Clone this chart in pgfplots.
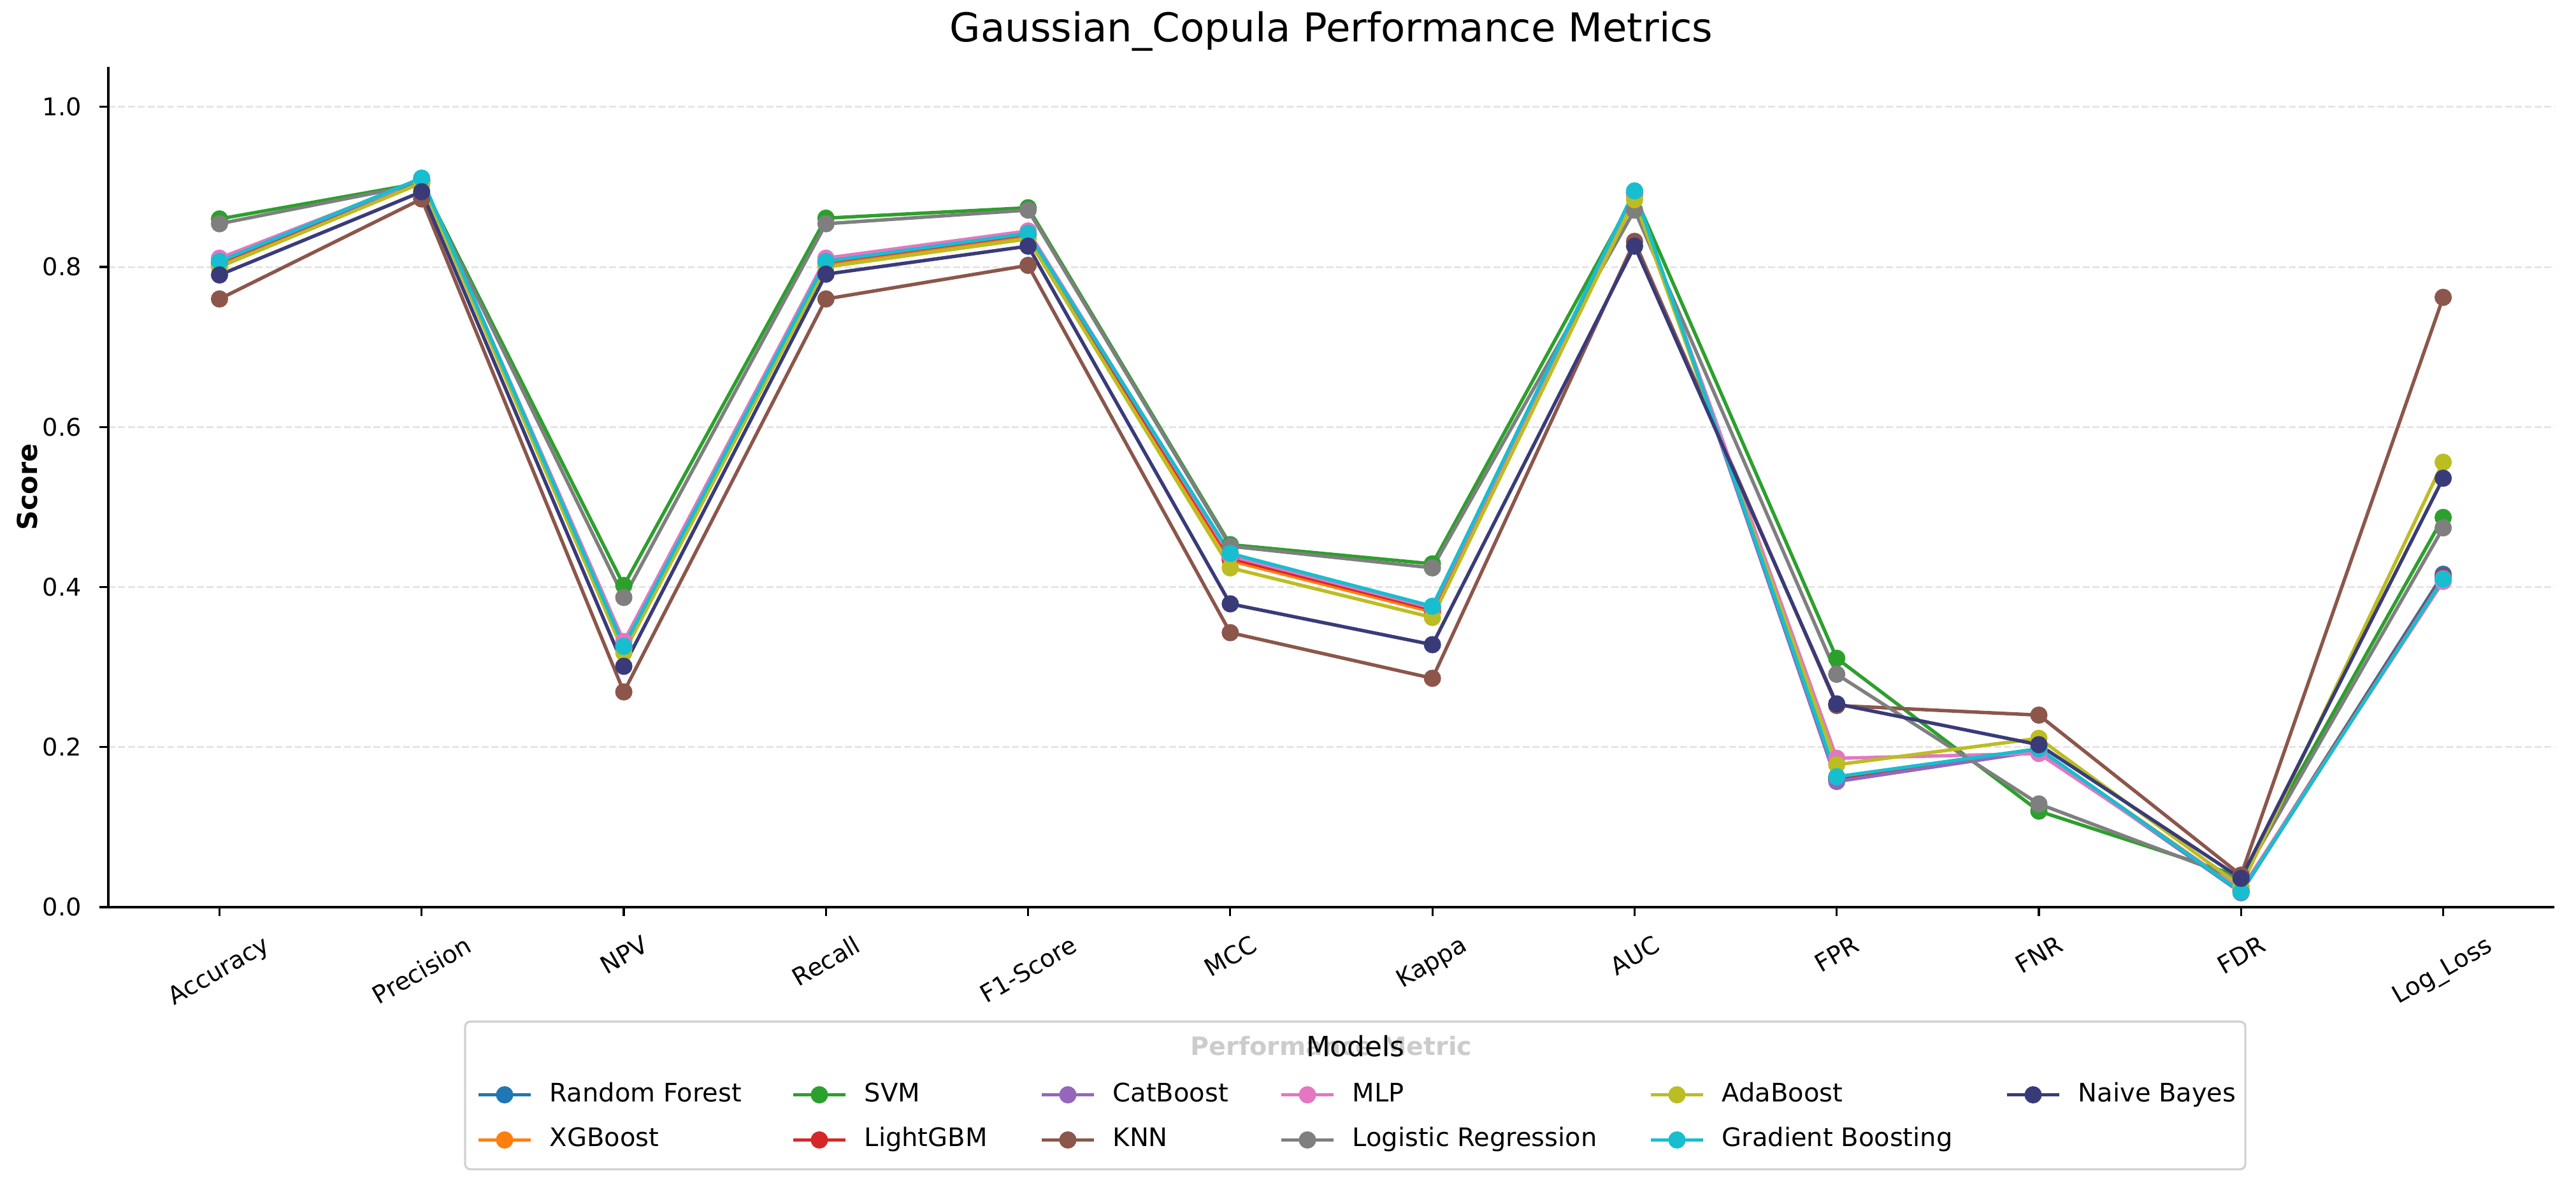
\documentclass[border=0pt]{standalone}
\usepackage{fontspec}
\setmainfont{DejaVu Sans}
\usepackage{graphicx}
\usepackage{pgfplots}
\pgfplotsset{compat=1.18}
\definecolor{cRF}{HTML}{1F77B4}
\definecolor{cXG}{HTML}{FF7F0E}
\definecolor{cSVM}{HTML}{2CA02C}
\definecolor{cLG}{HTML}{D62728}
\definecolor{cCB}{HTML}{9467BD}
\definecolor{cKNN}{HTML}{8C564B}
\definecolor{cMLP}{HTML}{E377C2}
\definecolor{cLR}{HTML}{7F7F7F}
\definecolor{cAda}{HTML}{BCBD22}
\definecolor{cGB}{HTML}{17BECF}
\definecolor{cNB}{HTML}{393B79}
\newcommand{\rl}[1]{\rotatebox{30}{#1}}
\newcommand{\lw}[2]{\makebox[#1][l]{#2}}
\pgfplotsset{
  mstyle/.style={color=#1, mark=*, line width=1.3bp, mark size=3bp, mark options={solid, line width=0.5bp, fill=#1}},
}
\begin{document}
\begin{tikzpicture}
% x label (seen through the legend frame)
\node[font=\bfseries\fontsize{9.5bp}{11bp}\selectfont, anchor=center] at (460.68bp,-52.3bp) {Performance Metric};
% legend frame and title
\draw[draw=black!18, line width=0.8bp, fill=white, fill opacity=0.8, rounded corners=2bp] (134.4bp,-43.1bp) rectangle (804.96bp,-98.76bp);
\node[font=\fontsize{10.5bp}{12bp}\selectfont, anchor=center] at (469.7bp,-52.25bp) {Models};
\begin{axis}[
  name=ax,
  at={(0,0)}, anchor=south west,
  scale only axis,
  width=921.36bp, height=316.56bp,
  xmin=-0.55, xmax=11.55,
  ymin=0, ymax=1.05,
  axis lines=left,
  axis line style={-, line width=0.75bp, black},
  tick align=outside,
  major tick length=3.4bp,
  tick style={line width=0.75bp, black},
  xtick={0,1,2,3,4,5,6,7,8,9,10,11},
  xticklabels={\rl{Accuracy},\rl{Precision},\rl{NPV},\rl{Recall},\rl{F1-Score},\rl{MCC},\rl{Kappa},\rl{AUC},\rl{FPR},\rl{FNR},\rl{FDR},\rl{Log\_Loss}},
  ytick={0,0.2,0.4,0.6,0.8,1.0},
  /pgf/number format/fixed,
  /pgf/number format/fixed zerofill,
  /pgf/number format/precision=1,
  /pgf/number format/assume math mode=true,
  ticklabel style={font=\fontsize{9.2bp}{11bp}\selectfont},
  xticklabel style={anchor=north, inner sep=0pt, yshift=-6.7bp},
  yticklabel style={anchor=east, inner sep=0pt, xshift=-6.5bp},
  ymajorgrids,
  grid style={dash pattern=on 2.6bp off 1.1bp, line width=0.7bp, color=black!10},
  title={Gaussian\_Copula Performance Metrics},
  title style={at={(0.5,1)}, anchor=base, yshift=3.4bp, font=\fontsize{15bp}{18bp}\selectfont},
  ylabel={Score},
  ylabel style={at={(axis description cs:0,0.5)}, anchor=center, yshift=30.5bp, font=\bfseries\fontsize{10.3bp}{12bp}\selectfont},
  legend columns=6,
  legend cell align=left,
  legend image code/.code={\draw[overlay, mark repeat=2,mark phase=2] plot coordinates {(-26.8bp,0bp) (-17bp,0bp) (-7.2bp,0bp)};},
  legend style={draw=none, fill=none, at={(axis description cs:0,0)}, anchor=north west, xshift=166.08bp, yshift=-66bp,
    inner sep=0pt, row sep=8bp, column sep=0pt,
    nodes={inner sep=0pt, text height=7bp, text depth=2bp},
    font=\fontsize{9.6bp}{11bp}\selectfont,
    /tikz/every odd column/.append style={column sep=0pt},
    /tikz/every even column/.append style={column sep=0pt}},
]
% Order: Acc, Prec, NPV, Recall, F1, MCC, Kappa, AUC, FPR, FNR, FDR, LogLoss
\addplot[mstyle=cRF, forget plot] coordinates {(0,0.805) (1,0.908) (2,0.325) (3,0.805) (4,0.840) (5,0.434) (6,0.370) (7,0.893) (8,0.160) (9,0.196) (10,0.020) (11,0.416)};
\addplot[mstyle=cXG, forget plot] coordinates {(0,0.804) (1,0.907) (2,0.323) (3,0.804) (4,0.839) (5,0.433) (6,0.369) (7,0.892) (8,0.161) (9,0.197) (10,0.021) (11,0.412)};
\addplot[mstyle=cSVM, forget plot] coordinates {(0,0.860) (1,0.905) (2,0.402) (3,0.861) (4,0.874) (5,0.453) (6,0.429) (7,0.890) (8,0.311) (9,0.120) (10,0.038) (11,0.487)};
\addplot[mstyle=cLG, forget plot] coordinates {(0,0.806) (1,0.908) (2,0.326) (3,0.806) (4,0.841) (5,0.436) (6,0.372) (7,0.893) (8,0.161) (9,0.196) (10,0.020) (11,0.413)};
\addplot[mstyle=cCB, forget plot] coordinates {(0,0.807) (1,0.909) (2,0.327) (3,0.807) (4,0.842) (5,0.440) (6,0.375) (7,0.894) (8,0.157) (9,0.195) (10,0.018) (11,0.411)};
\addplot[mstyle=cKNN, forget plot] coordinates {(0,0.760) (1,0.885) (2,0.269) (3,0.760) (4,0.802) (5,0.343) (6,0.286) (7,0.832) (8,0.252) (9,0.240) (10,0.040) (11,0.762)};
\addplot[mstyle=cMLP, forget plot] coordinates {(0,0.811) (1,0.909) (2,0.332) (3,0.811) (4,0.845) (5,0.439) (6,0.374) (7,0.890) (8,0.186) (9,0.192) (10,0.022) (11,0.407)};
\addplot[mstyle=cLR, forget plot] coordinates {(0,0.854) (1,0.904) (2,0.387) (3,0.854) (4,0.871) (5,0.451) (6,0.424) (7,0.871) (8,0.291) (9,0.129) (10,0.034) (11,0.474)};
\addplot[mstyle=cAda, forget plot] coordinates {(0,0.800) (1,0.905) (2,0.318) (3,0.800) (4,0.835) (5,0.424) (6,0.362) (7,0.884) (8,0.178) (9,0.211) (10,0.026) (11,0.556)};
\addplot[mstyle=cGB, forget plot] coordinates {(0,0.807) (1,0.911) (2,0.326) (3,0.807) (4,0.842) (5,0.442) (6,0.376) (7,0.895) (8,0.163) (9,0.198) (10,0.019) (11,0.410)};
\addplot[mstyle=cNB, forget plot] coordinates {(0,0.790) (1,0.894) (2,0.301) (3,0.791) (4,0.826) (5,0.379) (6,0.328) (7,0.826) (8,0.254) (9,0.203) (10,0.036) (11,0.536)};
% legend, row by row
\addlegendimage{mstyle=cRF}\addlegendentry{\lw{118.56bp}{Random Forest}}
\addlegendimage{mstyle=cSVM}\addlegendentry{\lw{93.6bp}{SVM}}
\addlegendimage{mstyle=cCB}\addlegendentry{\lw{90.24bp}{CatBoost}}
\addlegendimage{mstyle=cMLP}\addlegendentry{\lw{139.2bp}{MLP}}
\addlegendimage{mstyle=cAda}\addlegendentry{\lw{134.16bp}{AdaBoost}}
\addlegendimage{mstyle=cNB}\addlegendentry{Naive Bayes}
\addlegendimage{mstyle=cXG}\addlegendentry{\lw{118.56bp}{XGBoost}}
\addlegendimage{mstyle=cLG}\addlegendentry{\lw{93.6bp}{LightGBM}}
\addlegendimage{mstyle=cKNN}\addlegendentry{\lw{90.24bp}{KNN}}
\addlegendimage{mstyle=cLR}\addlegendentry{\lw{139.2bp}{Logistic Regression}}
\addlegendimage{mstyle=cGB}\addlegendentry{\lw{134.16bp}{Gradient Boosting}}
\end{axis}
\pgfresetboundingbox
\useasboundingbox (-40.8bp,-103.68bp) rectangle (929.52bp,341.76bp);
\end{tikzpicture}
\end{document}
